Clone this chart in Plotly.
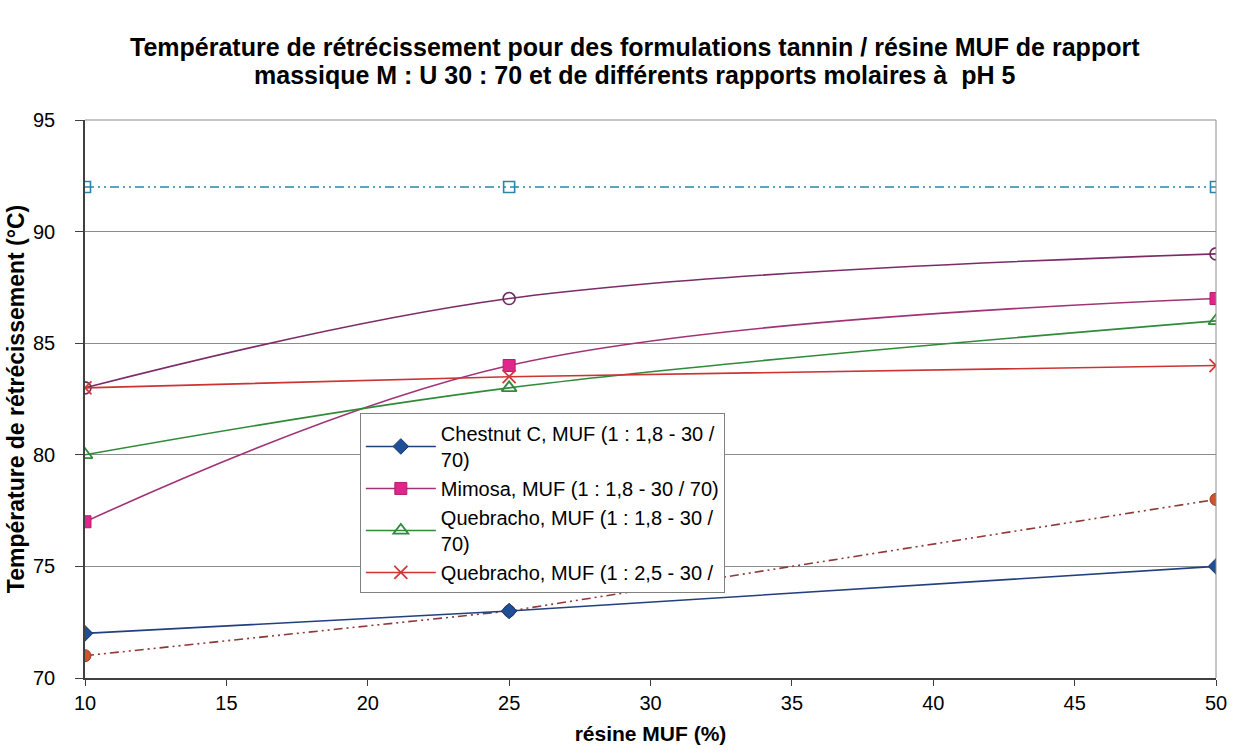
import plotly.graph_objects as go

# Teneur en résine MUF (%)
resine_muf = [10, 25, 50]

# Températures de rétrécissement (°C)
chestnut_18 = [72, 73, 75]
mimosa_18 = [77, 84, 87]
quebracho_18 = [80, 83, 86]
quebracho_25 = [83, 83.5, 84]
serie_cercles = [83, 87, 89]
serie_carres = [92, 92, 92]
serie_points = [71, 73, 78]

y_ticks = [70, 75, 80, 85, 90, 95]
x_ticks = [10, 15, 20, 25, 30, 35, 40, 45, 50]

titre_l1 = "Température de rétrécissement pour des formulations tannin / résine MUF de rapport"
titre_l2 = "massique M : U 30 : 70 et de différents rapports molaires à  pH 5"

dash_dot_dot = "9px,4px,2px,4px,2px,4px"

fig = go.Figure()

fig.add_trace(go.Scatter(
    x=resine_muf, y=serie_carres, mode="lines+markers", showlegend=False,
    name="Série carrés",
    line=dict(color="#2A86A8", width=1.6, dash=dash_dot_dot),
    marker=dict(symbol="square-open", size=11, color="#2A86A8", line=dict(width=1.6)),
))
fig.add_trace(go.Scatter(
    x=resine_muf, y=serie_cercles, mode="lines+markers", showlegend=False,
    name="Série cercles",
    line=dict(color="#7B2C68", width=1.6, shape="spline"),
    marker=dict(symbol="circle-open", size=12, color="#6E2860", line=dict(width=1.6)),
))
fig.add_trace(go.Scatter(
    x=resine_muf, y=serie_points, mode="lines+markers", showlegend=False,
    name="Série points",
    line=dict(color="#8E3838", width=1.6, dash=dash_dot_dot),
    marker=dict(symbol="circle", size=12, color="#D0532A", line=dict(color="#9A3A22", width=1)),
))
fig.add_trace(go.Scatter(
    x=resine_muf, y=chestnut_18, mode="lines+markers",
    name="Chestnut C, MUF (1 : 1,8 - 30 /<br>70)",
    line=dict(color="#22407E", width=1.6, shape="spline"),
    marker=dict(symbol="diamond", size=12, color="#1F4F96", line=dict(color="#17356A", width=1)),
))
fig.add_trace(go.Scatter(
    x=resine_muf, y=mimosa_18, mode="lines+markers",
    name="Mimosa, MUF (1 : 1,8 - 30 / 70)",
    line=dict(color="#A23276", width=1.6, shape="spline"),
    marker=dict(symbol="square", size=12, color="#E0268A", line=dict(color="#B41E6C", width=1)),
))
fig.add_trace(go.Scatter(
    x=resine_muf, y=quebracho_18, mode="lines+markers",
    name="Quebracho, MUF (1 : 1,8 - 30 /<br>70)",
    line=dict(color="#2F8A3A", width=1.6, shape="spline"),
    marker=dict(symbol="triangle-up-open", size=13, color="#2F8A3A", line=dict(width=1.8)),
))
fig.add_trace(go.Scatter(
    x=resine_muf, y=quebracho_25, mode="lines+markers",
    name="Quebracho, MUF (1 : 2,5 - 30 /",
    line=dict(color="#CC3333", width=1.6, shape="spline"),
    marker=dict(symbol="x-thin-open", size=13, color="#D03A3A", line=dict(width=1.8, color="#D03A3A")),
))

fig.update_layout(
    width=1240, height=756,
    margin=dict(l=85, r=24, t=120, b=78),
    paper_bgcolor="white", plot_bgcolor="white",
    font=dict(family="Liberation Sans, Arial, sans-serif", color="black"),
    legend=dict(
        x=0.243, y=0.475, xanchor="left", yanchor="top",
        bgcolor="white", bordercolor="#808080", borderwidth=1,
        font=dict(size=20, color="black"),
        tracegroupgap=0, itemwidth=70,
    ),
    showlegend=True,
)

# Titre sur deux lignes, interligne serré
for texte, y_pos in [(titre_l1, 1.131), (titre_l2, 1.081)]:
    fig.add_annotation(
        text=f"<b>{texte}</b>", xref="paper", yref="paper", x=0.486, y=y_pos,
        xanchor="center", yanchor="middle", showarrow=False,
        font=dict(size=25, color="black"),
    )

fig.update_xaxes(
    range=[10, 50], tickvals=x_ticks, ticks="outside", ticklen=6, tickcolor="#404040",
    showline=True, linecolor="#404040", linewidth=1.5, mirror=False,
    showgrid=False, zeroline=False, automargin=False,
    tickfont=dict(size=20),
    title=dict(text="<b>résine MUF (%)</b>", font=dict(size=21), standoff=14),
)
fig.update_yaxes(
    range=[70, 95], tickvals=y_ticks,
    ticks="outside", ticklen=8, tickcolor="#404040",
    showline=True, linecolor="#404040", linewidth=1.5,
    showgrid=True, gridcolor="#8C8C8C", gridwidth=1, zeroline=False, automargin=False,
    tickfont=dict(size=20), ticklabelstandoff=16,
    title=dict(text="<b>Température de rétrécissement (°C)</b>", font=dict(size=23), standoff=2),
)

# Cadre droit et supérieur de la zone de tracé
fig.add_shape(type="line", xref="paper", yref="paper", x0=1, x1=1, y0=0, y1=1,
              line=dict(color="#8C8C8C", width=1))
fig.add_shape(type="line", xref="paper", yref="paper", x0=0, x1=1, y0=1, y1=1,
              line=dict(color="#8C8C8C", width=1))

fig.write_html("out.html")
